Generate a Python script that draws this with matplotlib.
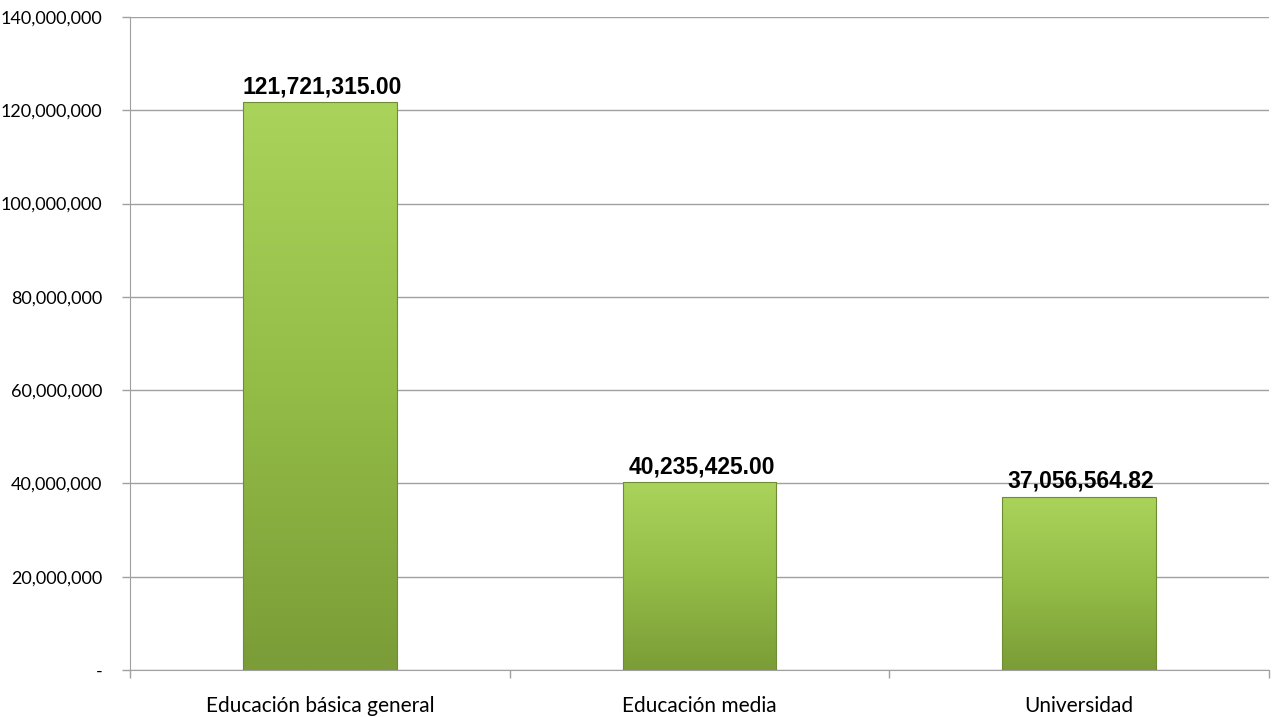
import numpy as np
import matplotlib
matplotlib.use('Agg')
import matplotlib.pyplot as plt
import matplotlib.colors as mcolors
from matplotlib.ticker import FuncFormatter, MultipleLocator

categories = ['Educación básica general', 'Educación media', 'Universidad']
values = [121721315.00, 40235425.00, 37056564.82]
value_labels = ['121,721,315.00', '40,235,425.00', '37,056,564.82']

plt.rcParams['font.family'] = ['Lato', 'DejaVu Sans']

fig = plt.figure(figsize=(12.72, 7.17), dpi=100)
ax = fig.add_axes([130 / 1272, 1 - 670 / 717, 1139 / 1272, 653 / 717])

x = np.arange(len(categories))
width = 0.405
bars = ax.bar(x, values, width=width, color='none', edgecolor='#6e8c33',
              linewidth=0.8, zorder=3)

# vertical gradient, light on top, darker at the bottom
cmap = mcolors.LinearSegmentedColormap.from_list(
    'grn', ['#7b9c37', '#93bd47', '#a9d35a'])
grad = np.linspace(0, 1, 256).reshape(-1, 1)
for b in bars:
    im = ax.imshow(grad, cmap=cmap, origin='lower', aspect='auto',
                   extent=[b.get_x(), b.get_x() + b.get_width(), 0, b.get_height()],
                   zorder=2)
    im.set_clip_path(b)

for xi, v, lab in zip(x, values, value_labels):
    ax.text(xi + 0.005, v + 0.9e6, lab, ha='center', va='bottom',
            fontsize=16.5, fontweight='bold', color='black', zorder=4,
            family=['Liberation Sans', 'DejaVu Sans'])

ax.set_xlim(-0.5, 2.5)
ax.set_ylim(0, 140000000)
ax.yaxis.set_major_locator(MultipleLocator(20000000))
ax.yaxis.set_major_formatter(FuncFormatter(
    lambda v, p: '-' if v == 0 else f'{v:,.0f}'))

ax.set_xticks(x)
ax.set_xticklabels(categories, fontsize=15)
ax.set_xticks([-0.5, 0.5, 1.5, 2.5], minor=True)
ax.tick_params(axis='x', which='major', length=0, pad=19)
ax.tick_params(axis='x', which='minor', length=6, color='#a0a0a0', width=1)
ax.tick_params(axis='y', length=6, color='#a0a0a0', width=1,
               labelsize=13, pad=14)

ax.grid(axis='y', color='#a0a0a0', linewidth=1, zorder=0)
ax.set_axisbelow(True)
for s in ['top', 'right']:
    ax.spines[s].set_visible(False)
ax.spines['left'].set_color('#a0a0a0')
ax.spines['bottom'].set_color('#a0a0a0')

fig.savefig('out.png', dpi=100)
